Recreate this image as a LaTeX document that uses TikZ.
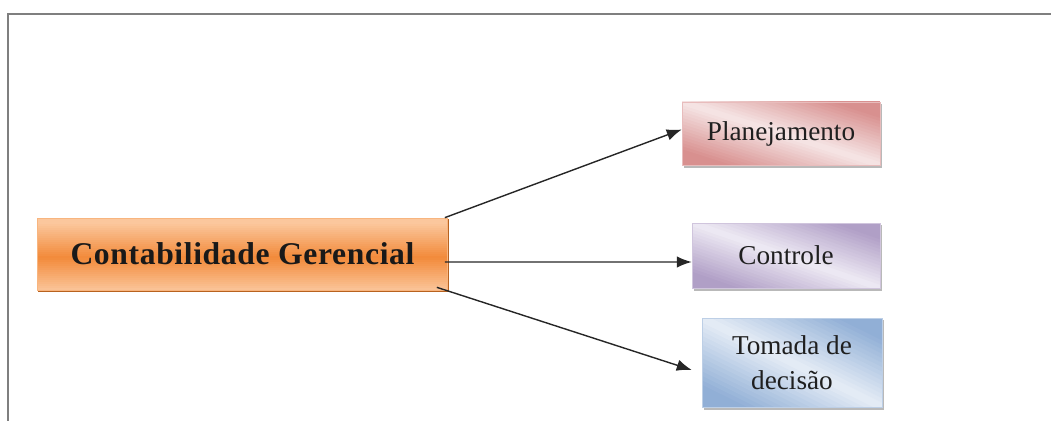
\documentclass[tikz,border=0pt]{standalone}
\usepackage{fontspec}
\setmainfont{Liberation Serif}
\usetikzlibrary{arrows.meta,backgrounds}

\definecolor{frameGray}{HTML}{7F7F7F}
\definecolor{orangeDark}{HTML}{F28A3A}
\definecolor{orangeLight}{HTML}{FBC79D}
\definecolor{orangeEdge}{HTML}{B8621F}
\definecolor{roseDark}{HTML}{D8908F}
\definecolor{roseLight}{HTML}{F6E6E6}
\definecolor{lilacDark}{HTML}{B09FC6}
\definecolor{lilacLight}{HTML}{EEEAF4}
\definecolor{blueDark}{HTML}{91AFD6}
\definecolor{blueLight}{HTML}{E6EDF6}

%% band fill across a box: #1 node, #2 half width, #3 half height, #4 dark, #5 light
\newcommand\bandfill[5]{%
  \begin{scope}[shift={(#1.center)}, x={(#2,0)}, y={(0,#3)}]
    \clip (-1,-1) rectangle (1,1);
    \foreach \k in {0,...,39}{
      \pgfmathsetmacro\ca{-2+\k*0.1}
      \pgfmathsetmacro\cb{\ca+0.13}
      \pgfmathsetmacro\pct{min(100,abs(\ca+0.05)*65)}
      \fill[#4!\pct!#5] (\ca+2,-2) -- (\cb+2,-2) -- (\cb-2,2) -- (\ca-2,2) -- cycle;
    }
  \end{scope}}

\tikzset{
  mainbox/.style={draw=orangeLight!70!orangeDark, line width=0.4pt,
    minimum width=8.2cm, minimum height=1.44cm,
    font=\fontsize{18}{21}\selectfont\bfseries\addfontfeatures{LetterSpace=2}, text=black!90},
  subbox/.style={draw=#1Dark!60, line width=0.3pt,
    font=\fontsize{15.5}{20}\selectfont, text=black!88, align=center},
  boxshadow/.style={fill=gray!55},
  link/.style={line width=0.8pt, black!85, -{Latex[length=3mm,width=2.3mm]}}
}

\begin{document}
\begin{tikzpicture}[x=0.02cm,y=-0.02cm]
    \useasboundingbox (0,0) rectangle (1051,421);
    %% outer frame (only top and left edges show)
    \draw[frameGray, line width=1.1pt] (8,421) -- (8,14) -- (1051,14);
    %% boxes
    \node[mainbox] (cg) at (242.5,254) {Contabilidade Gerencial};
    \node[subbox=rose, minimum width=3.96cm, minimum height=1.26cm] (plan) at (781,133.5) {Planejamento};
    \node[subbox=lilac, minimum width=3.76cm, minimum height=1.3cm] (ctrl) at (786,255.5) {Controle};
    \node[subbox=blue, minimum width=3.6cm, minimum height=1.78cm] (dec) at (792,362.5) {Tomada de\\decisão};
    %% fills and shadows behind the boxes
    \begin{scope}[on background layer]
        \fill[orangeEdge] ([shift={(0.7pt,-1pt)}]cg.south west) rectangle ([shift={(0.7pt,-1pt)}]cg.north east);
        \begin{scope}[shift={(cg.center)}, x={(4.1cm,0)}, y={(0,0.72cm)}]
            \foreach \k in {0,...,35}{
                \pgfmathsetmacro\ya{1-\k/18}
                \pgfmathsetmacro\yb{\ya-1/18-0.01}
                \pgfmathsetmacro\pct{100-min(100,abs(\ya-1/36+0.1)*105)}
                \fill[orangeDark!\pct!orangeLight] (-1,\ya) rectangle (1,\yb);
            }
        \end{scope}
        \foreach \n in {plan,ctrl,dec}
            \fill[boxshadow] ([shift={(1.2pt,-1.4pt)}]\n.south west) rectangle ([shift={(1.2pt,-1.4pt)}]\n.north east);
        \bandfill{plan}{1.98cm}{0.63cm}{roseDark}{roseLight}
        \bandfill{ctrl}{1.88cm}{0.65cm}{lilacDark}{lilacLight}
        \bandfill{dec}{1.8cm}{0.89cm}{blueDark}{blueLight}
    \end{scope}
    %% links
    \draw[link] ([xshift=-0.06cm]cg.north east) -- ([yshift=0.08cm]plan.west);
    \draw[link] ([xshift=-0.06cm,yshift=-0.16cm]cg.east) -- ([yshift=-0.13cm]ctrl.west);
    \draw[link] ([xshift=-0.22cm,yshift=0.06cm]cg.south east) -- ([xshift=-0.2cm,yshift=-0.15cm]dec.west);
\end{tikzpicture}
\end{document}
